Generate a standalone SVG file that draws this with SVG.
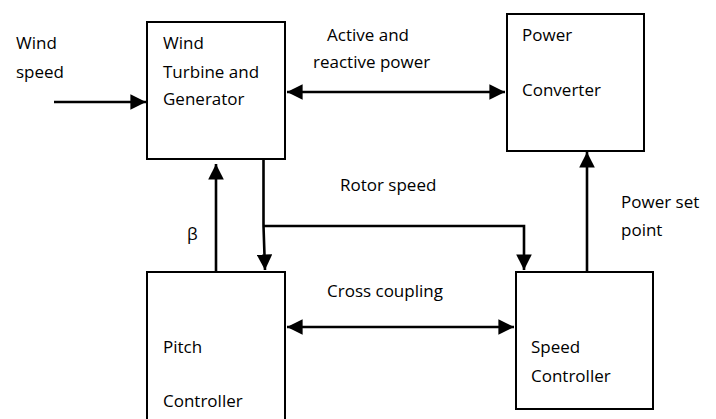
<svg xmlns="http://www.w3.org/2000/svg" width="716" height="419" viewBox="0 0 716 419">
<defs>
<marker id="ah" viewBox="0 0 10 10" refX="10" refY="5" markerWidth="6" markerHeight="6" orient="auto-start-reverse" markerUnits="strokeWidth">
<path d="M0,0 L10,5 L0,10 Z" fill="#000"/>
</marker>
<style>
.box{fill:#fff;stroke:#000;stroke-width:2}
.ln{fill:none;stroke:#000;stroke-width:2.6}
text{font-family:"Open Sans","Noto Sans","Liberation Sans",sans-serif;font-size:17px;fill:#000}
</style>
</defs>
<rect width="716" height="419" fill="#fff"/>
<g id="wind-turbine">
<rect class="box" x="147" y="22" width="138" height="137"/>
<text x="163" y="49">Wind</text>
<text x="163" y="78">Turbine and</text>
<text x="163" y="105">Generator</text>
</g>
<g id="power-converter">
<rect class="box" x="507" y="14" width="137" height="137"/>
<text x="522" y="41">Power</text>
<text x="522" y="96">Converter</text>
</g>
<g id="pitch-controller">
<path class="box" d="M147,425 V272 H285 V425"/>
<text x="163" y="353">Pitch</text>
<text x="163" y="407">Controller</text>
</g>
<g id="speed-controller">
<rect class="box" x="516" y="272" width="137" height="137"/>
<text x="531" y="353">Speed</text>
<text x="531" y="382">Controller</text>
</g>
<g id="connectors">
<line class="ln" x1="54" y1="102" x2="146" y2="102" marker-end="url(#ah)"/>
<line class="ln" x1="287" y1="92" x2="505" y2="92" marker-start="url(#ah)" marker-end="url(#ah)"/>
<line class="ln" x1="216" y1="271" x2="216" y2="164" marker-end="url(#ah)"/>
<polyline class="ln" points="263.5,159 263.5,226 265,270" marker-end="url(#ah)"/>
<polyline class="ln" points="263.5,226 524,226 524,270" marker-end="url(#ah)"/>
<line class="ln" x1="287" y1="327" x2="514" y2="327" marker-start="url(#ah)" marker-end="url(#ah)"/>
<line class="ln" x1="587" y1="271" x2="587" y2="152" marker-end="url(#ah)"/>
</g>
<g id="labels">
<text x="16" y="49">Wind</text>
<text x="16" y="78">speed</text>
<text x="327" y="41">Active and</text>
<text x="313" y="68">reactive power</text>
<text x="340" y="191">Rotor speed</text>
<text x="187" y="240">β</text>
<text x="327" y="297">Cross coupling</text>
<text x="621" y="208">Power set</text>
<text x="621" y="236">point</text>
</g>
</svg>
